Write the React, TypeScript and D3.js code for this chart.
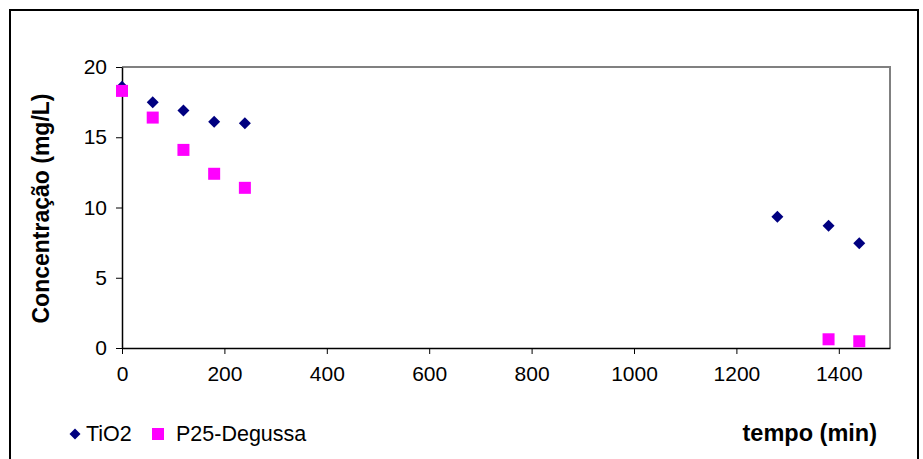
import React, { useEffect, useRef } from "react";
import * as d3 from "d3";

const tio2Time = [0, 60, 120, 180, 240, 1280, 1380, 1440];
const tio2Conc = [18.6, 17.5, 16.9, 16.1, 16.0, 9.35, 8.7, 7.45];
const p25Time = [0, 60, 120, 180, 240, 1380, 1440];
const p25Conc = [18.3, 16.4, 14.1, 12.4, 11.4, 0.62, 0.48];
const xTicks = [0, 200, 400, 600, 800, 1000, 1200, 1400];
const yTicks = [0, 5, 10, 15, 20];

const W = 923;
const H = 459;
const M = { left: 122, right: 890, top: 67, bottom: 348 };

export default function App() {
  const ref = useRef<SVGSVGElement | null>(null);
  useEffect(() => {
    const svg = d3.select(ref.current);
    svg.selectAll("*").remove();
    const x = d3.scaleLinear().domain([0, 1500]).range([M.left, M.right]);
    const y = d3.scaleLinear().domain([0, 20]).range([M.bottom, M.top]);
    const font = "Liberation Sans, Arial, sans-serif";

    svg.append("rect").attr("x", 0).attr("y", 0).attr("width", W).attr("height", H).attr("fill", "#fff");
    svg.append("rect").attr("x", 10).attr("y", 10).attr("width", 908).attr("height", 460)
      .attr("fill", "none").attr("stroke", "#000").attr("stroke-width", 2);

    // plot frame (top/right gray)
    svg.append("path")
      .attr("d", `M${M.left},${M.top}H${M.right}V${M.bottom}`)
      .attr("fill", "none").attr("stroke", "#808080").attr("stroke-width", 2);

    // axes
    const xAxis = d3.axisBottom(x).tickValues(xTicks).tickSize(6).tickPadding(8).tickSizeOuter(0)
      .tickFormat((d) => String(d));
    const gx = svg.append("g").attr("transform", `translate(0,${M.bottom})`).call(xAxis);
    gx.select(".domain").attr("stroke", "#000").attr("stroke-width", 1.5);
    gx.selectAll(".tick line").attr("stroke", "#000");
    gx.selectAll("text").attr("font-family", font).attr("font-size", 21).attr("fill", "#000").attr("dy", "0.9em");

    const yAxis = d3.axisLeft(y).tickValues(yTicks).tickSize(6).tickPadding(9).tickSizeOuter(0)
      .tickFormat((d) => String(d));
    const gy = svg.append("g").attr("transform", `translate(${M.left},0)`).call(yAxis);
    gy.select(".domain").attr("stroke", "#000").attr("stroke-width", 1.5);
    gy.selectAll(".tick line").attr("stroke", "#000");
    gy.selectAll("text").attr("font-family", font).attr("font-size", 21).attr("fill", "#000");

    const diamond = (cx: number, cy: number, r: number) =>
      `M${cx},${cy - r}L${cx + r},${cy}L${cx},${cy + r}L${cx - r},${cy}Z`;

    // TiO2 diamonds
    svg.append("g").selectAll("path").data(tio2Time.map((t, i) => [t, tio2Conc[i]]))
      .join("path")
      .attr("d", (d) => diamond(x(d[0]), y(d[1]), 6))
      .attr("fill", "#000080");

    // P25 squares
    const s = 12;
    svg.append("g").selectAll("rect").data(p25Time.map((t, i) => [t, p25Conc[i]]))
      .join("rect")
      .attr("x", (d) => x(d[0]) - s / 2)
      .attr("y", (d) => y(d[1]) - s / 2)
      .attr("width", s).attr("height", s)
      .attr("fill", "#FF00FF");

    // Y title
    svg.append("text")
      .attr("transform", `translate(49,${(M.top + M.bottom) / 2 + 1}) rotate(-90)`)
      .attr("text-anchor", "middle")
      .attr("font-family", font).attr("font-weight", "bold").attr("font-size", 23)
      .text("Concentração (mg/L)");

    // X title
    svg.append("text")
      .attr("x", 877).attr("y", 441).attr("text-anchor", "end")
      .attr("font-family", font).attr("font-weight", "bold").attr("font-size", 23.5)
      .text("tempo (min)");

    // Legend
    svg.append("path").attr("d", diamond(75, 434, 5.5)).attr("fill", "#000080");
    svg.append("text").attr("x", 86).attr("y", 441).attr("font-family", font).attr("font-size", 21.5).text("TiO2");
    svg.append("rect").attr("x", 152).attr("y", 428).attr("width", 12).attr("height", 12).attr("fill", "#FF00FF");
    svg.append("text").attr("x", 176).attr("y", 441).attr("font-family", font).attr("font-size", 21.5).text("P25-Degussa");
  }, []);

  return (
    <svg ref={ref} width={W} height={H} style={{ position: "absolute", left: 0, top: 0 }} />
  );
}
